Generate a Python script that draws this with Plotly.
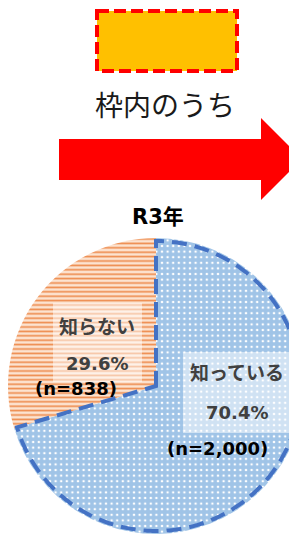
import numpy as np
import plotly.graph_objects as go

# ---- data ----
categories = ["知っている", "知らない"]
shares = [70.4, 29.6]          # percent
counts = [2000, 838]
title_text = "R3年"
header_text = "枠内のうち"

W, H = 300, 534
OFF = 8          # page body margin: figure pixel = page pixel - OFF
CJK = "DejaVu Sans, Noto Sans CJK JP, sans-serif"

# pie placed at page centre (156, 386), fill radius 148
pcx, pcy, pr = 156 - OFF, 386 - OFF, 148
dom_x = [(pcx - pr) / W, (pcx + pr) / W]
dom_y = [(H - (pcy + pr)) / H, (H - (pcy - pr)) / H]

fig = go.Figure()

fig.add_trace(go.Scatter(x=[0, W], y=[0, H], mode="markers",
                         marker=dict(opacity=0), hoverinfo="skip", showlegend=False))

slice_bg = ["#a0c4e7", "#fce3d0"]
slice_fg = ["#ffffff", "#ee8c4e"]
fig.add_trace(go.Pie(
    labels=categories, values=shares, sort=False, direction="counterclockwise",
    rotation=0, textinfo="none", hoverinfo="skip", showlegend=False,
    domain=dict(x=dom_x, y=dom_y),
    marker=dict(
        colors=slice_bg,
        line=dict(width=0),
        pattern=dict(shape=[".", "-"], fgcolor=slice_fg, bgcolor=slice_bg,
                     size=[5.6, 4.4], solidity=[0.16, 0.38], fillmode="replace"),
    ),
))

# geometry of the pie derived from the domain
cx = W * (dom_x[0] + dom_x[1]) / 2
cy = H * (1 - (dom_y[0] + dom_y[1]) / 2)
r = min(W * (dom_x[1] - dom_x[0]), H * (dom_y[1] - dom_y[0])) / 2
r_line = r - 3   # dashed outline sits slightly inside the fill edge

# dashed outline of the "知っている" slice (first slice: clockwise from 12 o'clock)
frac = shares[0] / sum(shares)
angles = np.radians(np.linspace(90.0, 90.0 - frac * 360.0, 240))
pts = [f"L{cx + r_line*np.cos(a):.2f},{cy - r_line*np.sin(a):.2f}" for a in angles]
outline = f"M{cx:.2f},{cy:.2f} " + " ".join(pts) + " Z"

def P(x, y):
    return x - OFF, y - OFF

def rect(x0, y0, x1, y1, **kw):
    a, b = P(x0, y0)
    c, d = P(x1, y1)
    return dict(type="rect", xref="x", yref="y", x0=a, y0=b, x1=c, y1=d, layer="above", **kw)

arrow_pts = [(59, 139), (261, 139), (261, 118), (302, 159), (261, 200), (261, 180), (59, 180)]
arrow_path = "M" + " L".join(f"{x - OFF},{y - OFF}" for x, y in arrow_pts) + " Z"

shapes = [
    rect(97, 11, 237, 71, fillcolor="#ffc000",
         line=dict(color="#ff0000", width=4, dash="12px,5px")),
    dict(type="path", xref="x", yref="y", path=arrow_path,
         fillcolor="#ff0000", line=dict(width=0), layer="above"),
    rect(53, 303, 142, 382, fillcolor="rgba(255,255,255,0.5)", line=dict(width=0)),
    rect(183, 352, 293, 433, fillcolor="rgba(255,255,255,0.5)", line=dict(width=0)),
    dict(type="path", xref="x", yref="y", path=outline,
         fillcolor="rgba(0,0,0,0)", line=dict(color="#4472c4", width=4, dash="15px,8px"),
         layer="above"),
]

def ann(text, x, y, size, color, bold=False):
    t = f"<b>{text}</b>" if bold else text
    px, py = P(x, y)
    return dict(text=t, x=px, y=py, xref="x", yref="y", showarrow=False,
                xanchor="center", yanchor="middle",
                font=dict(family=CJK, size=size, color=color))

annotations = [
    ann(header_text, 165, 106, 28, "#1a1a1a"),
    ann(title_text, 158, 217, 21, "#000000", bold=True),
    ann(categories[1], 97, 327, 19, "#404040", bold=True),
    ann(f"{shares[1]:.1f}%", 97, 363, 18, "#404040", bold=True),
    ann(f"(n={counts[1]:,})", 76, 388, 18, "#000000", bold=True),
    ann(categories[0], 237, 373, 19, "#404040", bold=True),
    ann(f"{shares[0]:.1f}%", 237, 412, 18, "#404040", bold=True),
    ann(f"(n={counts[0]:,})", 217, 448, 18, "#000000", bold=True),
]

fig.update_layout(
    width=W, height=H, margin=dict(l=0, r=0, t=0, b=0),
    paper_bgcolor="white", plot_bgcolor="rgba(0,0,0,0)",
    xaxis=dict(range=[0, W], visible=False, fixedrange=True, domain=[0, 1]),
    yaxis=dict(range=[H, 0], visible=False, fixedrange=True, domain=[0, 1]),
    shapes=shapes, annotations=annotations, showlegend=False,
)

fig.write_html("out.html")
